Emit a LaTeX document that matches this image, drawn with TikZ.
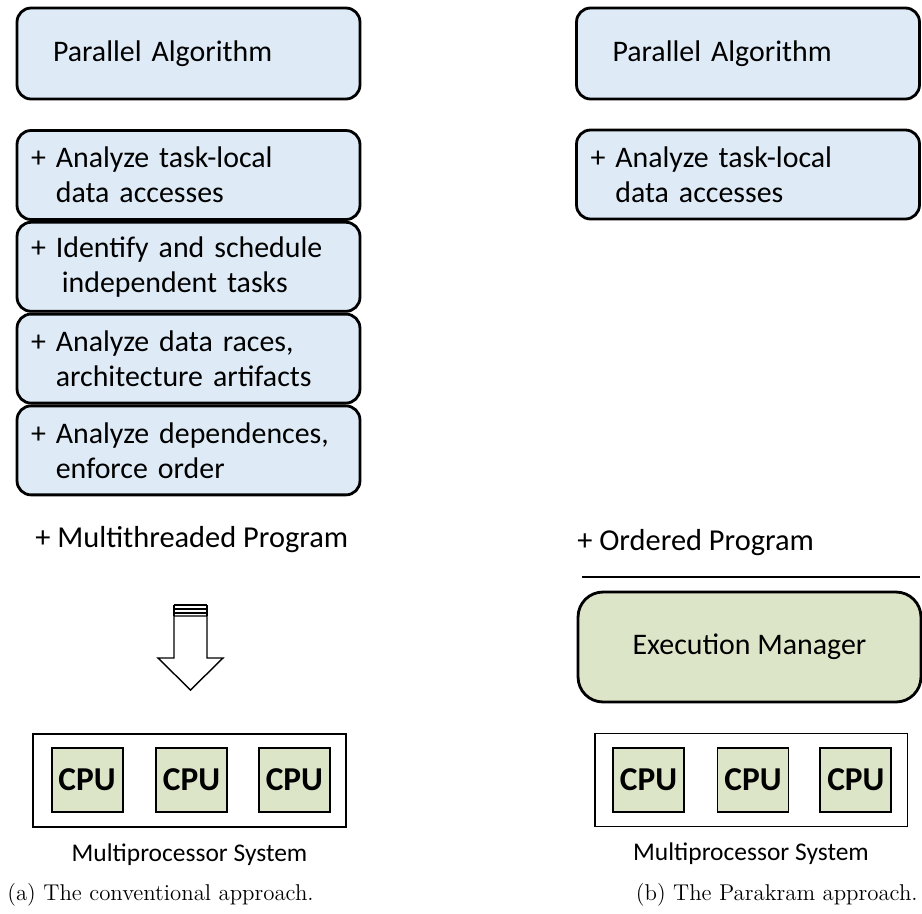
\documentclass[tikz,border=0pt]{standalone}
\usepackage{fontspec}
\newfontfamily\calibri{Carlito}
\usetikzlibrary{positioning}
\definecolor{algblue}{RGB}{222,235,247}
\definecolor{cpugreen}{RGB}{221,229,200}
\newcommand{\stepline}[2]{+ #1\\\phantom{+ }#2}

\begin{document}
\begin{tikzpicture}[x=0.02cm, y=-0.02cm,
    algbox/.style={draw, line width=1.6pt, rounded corners=0.28cm, fill=algblue,
        text width=6.3cm, inner xsep=0.28cm, align=left, minimum height=1.78cm,
        font=\calibri\fontsize{17}{20}\selectfont},
    mgrbox/.style={draw, line width=1.6pt, rounded corners=0.5cm, fill=cpugreen,
        minimum width=6.86cm, minimum height=2.2cm,
        font=\calibri\fontsize{17}{20}\selectfont},
    sysbox/.style={draw, line width=1.1pt, minimum width=6.26cm, minimum height=1.86cm},
    cpubox/.style={draw, line width=1.1pt, fill=cpugreen, minimum width=1.42cm,
        minimum height=1.28cm, font=\calibri\bfseries\fontsize{19}{22}\selectfont},
    prog/.style={anchor=west, inner sep=0pt, font=\calibri\fontsize{17.3}{21}\selectfont},
    syslabel/.style={inner sep=0pt, font=\calibri\fontsize{14.5}{18}\selectfont},
    caption/.style={inner sep=0pt, font=\fontsize{13}{16}\selectfont}]
    \useasboundingbox (0,0) rectangle (922,913);
    %
    % (a) conventional
    \node [algbox, minimum height=1.82cm] (lalg) at (188.5,53.5) {\hspace*{0.44cm}Parallel Algorithm};
    \node [algbox] (lacc) at (188.5,175) {\stepline{Analyze task-local}{data accesses}};
    \node [algbox, below=0pt of lacc] (lsched) {\stepline{Identify and schedule}{\hspace{0.12cm}independent tasks}};
    \node [algbox, below=0pt of lsched] (lrace) {\stepline{Analyze data races,}{architecture artifacts}};
    \node [algbox, below=0pt of lrace] (ldep) {\stepline{Analyze dependences,}{enforce order}};
    \node [prog] (lprog) at (35,540) {+ Multithreaded Program};
    %
    \coordinate (arrtop) at (190.5,605);
    \foreach \d in {0,4,8}
        \draw [line width=1.1pt] (arrtop) ++(-16.5,\d) -- ++(33,0);
    \draw [line width=0.8pt] (arrtop) ++(-16.5,0) -- ++(0,11);
    \draw [line width=0.8pt] (arrtop) ++(16.5,0) -- ++(0,11);
    \draw [line width=0.8pt, fill=white] (arrtop) ++(-16.5,11) -- ++(0,42) -- ++(-16,0)
        -- ++(32.5,32) coordinate (arrtip) -- ++(32.5,-32) -- ++(-16,0) -- ++(0,-42) -- cycle;
    %
    \node [sysbox] (lsys) at (189.5,780.5) {};
    \node [cpubox] (lcpu2) at (191.5,780) {CPU};
    \node [cpubox, left=0.63cm of lcpu2] (lcpu1) {CPU};
    \node [cpubox, right=0.6cm of lcpu2] (lcpu3) {CPU};
    \node [syslabel, below=0.3cm of lsys] (lsysname) {Multiprocessor System};
    \node [caption, anchor=base west] (capa) at (7,900) {(a) The conventional approach.};
    %
    % (b) Parakram
    \node [algbox, minimum height=1.82cm] (ralg) at (748,53.5) {\hspace*{0.44cm}Parallel Algorithm};
    \node [algbox] (racc) at (748,174.5) {\stepline{Analyze task-local}{data accesses}};
    \node [prog] (rprog) at (577,543) {+ Ordered Program};
    \coordinate (rlinel) at (582,577);
    \coordinate (rliner) at (920,577);
    \draw [line width=1.6pt] (rlinel) -- (rliner);
    \node [mgrbox] (rmgr) at (749.5,647) {Execution Manager};
    %
    \node [sysbox] (rsys) at (751,780) {};
    \node [cpubox] (rcpu2) at (753,780) {CPU};
    \node [cpubox, left=0.63cm of rcpu2] (rcpu1) {CPU};
    \node [cpubox, right=0.6cm of rcpu2] (rcpu3) {CPU};
    \node [syslabel, below=0.3cm of rsys] (rsysname) {Multiprocessor System};
    \node [caption, anchor=base east] (capb) at (918,900) {(b) The Parakram approach.};
\end{tikzpicture}
\end{document}
